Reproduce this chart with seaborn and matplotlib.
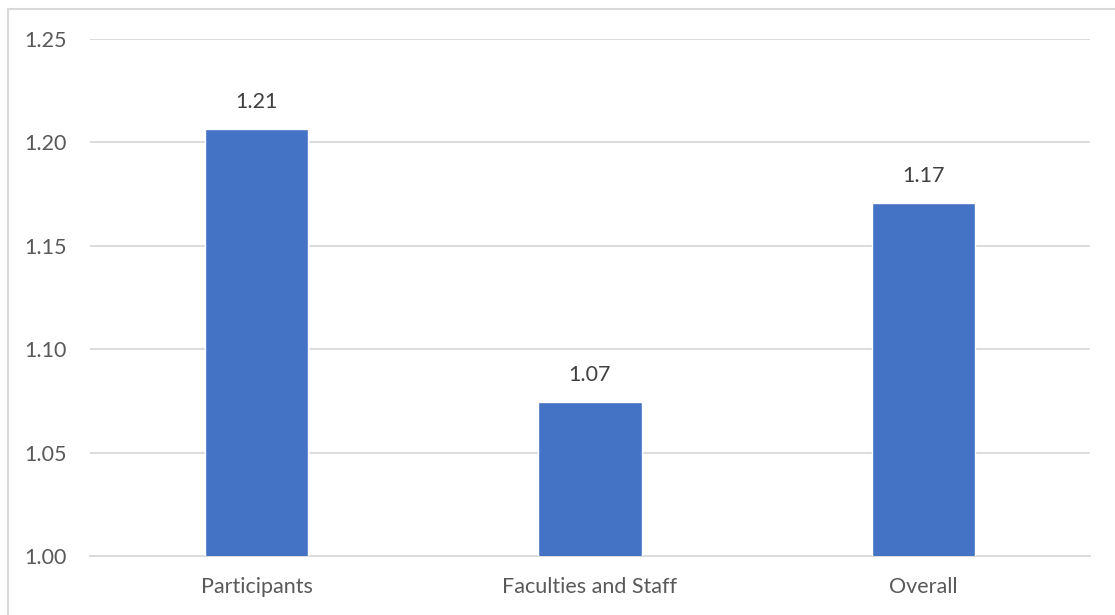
import matplotlib
matplotlib.use("Agg")
import matplotlib.pyplot as plt
import matplotlib.patches as mpatches
import pandas as pd
import seaborn as sns

categories = ["Participants", "Faculties and Staff", "Overall"]
values = [1.2065, 1.0745, 1.1707]
y_ticks = [1.00, 1.05, 1.10, 1.15, 1.20, 1.25]

BAR_COLOR = "#4472C4"
GRID_COLOR = "#d9d9d9"
TEXT_COLOR = "#595959"

sns.set_style("white")
plt.rcParams["font.family"] = ["Lato", "DejaVu Sans"]

df = pd.DataFrame({"category": categories, "value": values})

fig = plt.figure(figsize=(11.15, 6.15), dpi=100)
ax = fig.add_axes([90 / 1115, 1 - 556 / 615, 1000 / 1115, (556 - 39) / 615])

sns.barplot(data=df, x="category", y="value", color=BAR_COLOR, width=0.31,
            saturation=1, ax=ax, zorder=3)

ax.set_ylim(1.0, 1.25)
ax.set_xlim(-0.5, 2.5)
ax.set_yticks(y_ticks)
ax.set_yticklabels([f"{t:.2f}" for t in y_ticks])
ax.yaxis.grid(True, color=GRID_COLOR, linewidth=1.3, zorder=0)
ax.set_axisbelow(True)
ax.set_xlabel("")
ax.set_ylabel("")
for side in ["top", "right", "left"]:
    ax.spines[side].set_visible(False)
ax.spines["bottom"].set_color(GRID_COLOR)
ax.spines["bottom"].set_linewidth(1.3)
ax.tick_params(axis="y", length=0, pad=16.5, labelsize=15.5, labelcolor=TEXT_COLOR)
ax.tick_params(axis="x", length=0, pad=15, labelsize=15.5, labelcolor=TEXT_COLOR)

for i, v in enumerate(values):
    ax.annotate(f"{v:.2f}", xy=(i, v), xytext=(0, 12.5), textcoords="offset points",
                ha="center", va="bottom", fontsize=15.5, color="#404040")

# Chart area border
border = mpatches.Rectangle((8 / 1115, -0.1), 1.2, 1.1 - 9 / 615,
                            transform=fig.transFigure, fill=False,
                            edgecolor=GRID_COLOR, linewidth=1.5, zorder=10)
fig.patches.append(border)

fig.savefig("out.png", dpi=100)
